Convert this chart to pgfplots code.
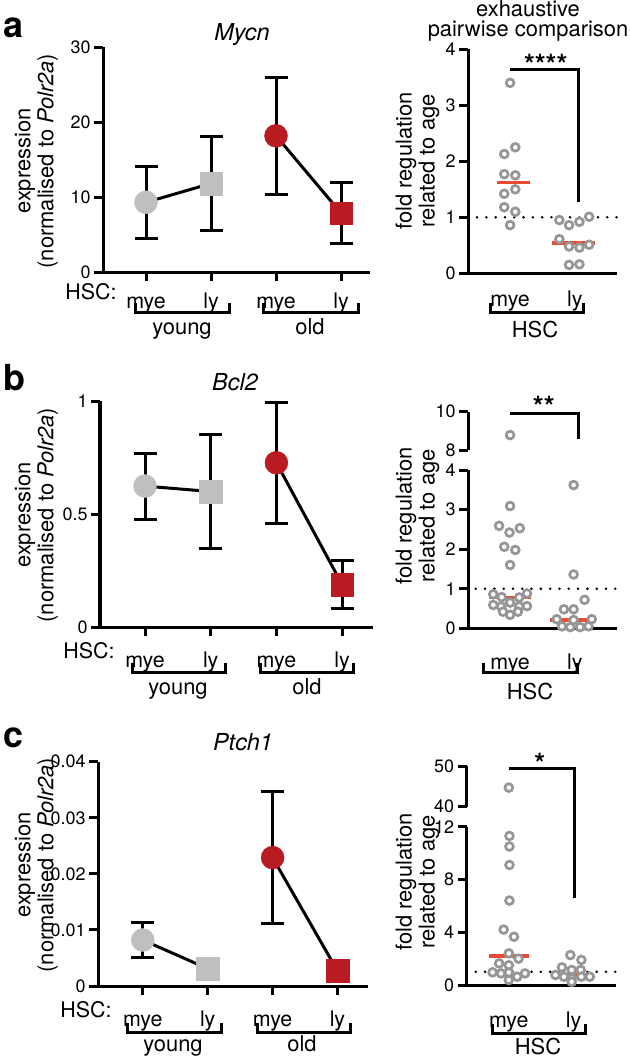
\documentclass[border=0pt]{standalone}
\usepackage{fontspec}
\setmainfont{TeX Gyre Heros}
\usepackage{pgfplots}
\pgfplotsset{compat=1.18}
\definecolor{mgrey}{RGB}{190,191,193}
\definecolor{mred}{RGB}{184,28,34}
\definecolor{rgrey}{RGB}{150,150,150}
\definecolor{medred}{RGB}{232,74,50}
\newcommand{\lab}{\fontsize{22}{23}\selectfont}
\newcommand{\ytk}{\fontsize{18}{20}\selectfont}
\newcommand{\xtk}{\fontsize{21.5}{24}\selectfont}
\newcommand{\ttl}{\fontsize{23.5}{24}\selectfont\itshape}
\newcommand{\brk}[3]{\draw[line width=3bp] (#1bp,-#3bp) ++(0,9bp) -- ++(0,-9bp) -- (#2bp,-#3bp) -- ++(0,9bp);}
\pgfplotsset{
  base/.style={scale only axis, axis lines*=left, axis line style={-, line width=3bp},
    every tick/.style={line width=3bp, black}, major tick length=9bp, tick align=outside,
    scaled y ticks=false,
    yticklabel style={font=\ytk}, xticklabel style={font=\xtk, anchor=base},
    clip=false, /pgf/number format/assume math mode=true},
  lpan/.style={base, xtick={0,1,2,3}, xticklabels={mye,ly,mye,ly}},
  rpan/.style={base, xmin=0.35, xmax=2.65, width=149bp, xtick={1,2}, xticklabels={mye,ly}, xtick style={draw=none}},
  upan/.style={base, xmin=0.35, xmax=2.65, width=149bp, axis x line=none, xtick=\empty},
  eb/.style={black, line width=3bp, mark=none, error bars/.cd, y dir=both, y explicit,
    error bar style={line width=3bp, black}, error mark options={rotate=90, line width=3bp, mark size=11.5bp, black}},
  ring/.style={only marks, mark=*, mark size=3.9bp, mark options={draw=rgrey, fill=white, line width=2.7bp}},
  med/.style={medred, line width=3.8bp},
  dots/.style={black, line width=2.8bp, line cap=round, dash pattern=on 0bp off 9.3bp},
  sig/.style={black, line width=3bp},
  gc/.style={only marks, mark=*, mark size=11.5bp, mgrey},
  gs/.style={only marks, mark=square*, mark size=11.3bp, mgrey},
  rc/.style={only marks, mark=*, mark size=11.5bp, mred},
  rs/.style={only marks, mark=square*, mark size=11.3bp, mred},
}
\begin{document}
\begin{tikzpicture}
\path[use as bounding box] (0,0) rectangle (630bp,-1057bp);
% ---------------- panel a ----------------
\node[anchor=base west, font=\fontsize{36}{36}\selectfont\bfseries] at (0bp,-37bp) {a};
\node[anchor=base, font=\ttl] at (242bp,-40bp) {Mycn};
\node[rotate=90, align=center, font=\lab] at (36.5bp,-161bp) {expression\\(normalised to \textit{Polr2a})};
\begin{axis}[lpan, at={(103bp,-272.3bp)}, anchor=south west, width=267bp, height=225bp,
  xmin=-0.662, xmax=3.446, ymin=0, ymax=30, ytick={0,10,20,30}, yticklabels={0,10,20,30},
  xticklabel style={yshift=-27bp}]
\addplot[eb] coordinates {(0,9.33) +- (0,4.8) (1,11.84) +- (0,6.3)};
\addplot[eb] coordinates {(2,18.2) +- (0,7.8) (3,7.9) +- (0,4.05)};
\addplot[gc] coordinates {(0,9.33)};
\addplot[gs] coordinates {(1,11.84)};
\addplot[rc] coordinates {(2,18.2)};
\addplot[rs] coordinates {(3,7.9)};
\end{axis}
\node[anchor=base east, font=\xtk] at (120bp,-299bp) {HSC:};
\brk{135}{229}{312}\brk{263}{358}{312}
\node[anchor=base, font=\lab] at (182bp,-334bp) {young};
\node[anchor=base, font=\lab] at (310bp,-334bp) {old};
% right a
\node[anchor=base, font=\fontsize{22}{22}\selectfont, inner sep=0pt] at (528bp,-16bp) {exhaustive};
\node[anchor=base, font=\fontsize{22}{22}\selectfont, inner sep=0pt] at (528bp,-36bp) {pairwise comparison};
\node[rotate=90, align=center, font=\lab] at (417.5bp,-161bp) {fold regulation\\related to age};
\begin{axis}[rpan, at={(468bp,-273.3bp)}, anchor=south west, height=224bp,
  ymin=0, ymax=4, ytick={0,1,2,3,4}, yticklabels={0,1,2,3,4}, xticklabel style={yshift=-24bp}]
\addplot[dots] coordinates {(0.49,1) (2.65,1)};
\addplot[ring] coordinates {(1.0,3.40) (0.91,2.13) (1.08,2.25) (0.91,1.77) (1.08,1.75) (0.91,1.42) (1.08,1.50) (0.91,1.18) (1.08,1.10) (1.0,0.86)};
\addplot[ring] coordinates {(1.76,0.95) (1.91,0.86) (2.07,0.92) (2.22,1.01) (1.76,0.61) (1.91,0.48) (2.07,0.46) (2.22,0.51) (1.91,0.15) (2.07,0.16)};
\addplot[med] coordinates {(0.79,1.62) (1.31,1.62)};
\addplot[med] coordinates {(1.64,0.54) (2.31,0.54)};
\addplot[sig] coordinates {(1,3.64) (2.05,3.64) (2.05,1.28)};
\node[anchor=south, font=\fontsize{28}{28}\selectfont\bfseries, inner sep=0pt] at (axis cs:1.55,3.55) {****};
\end{axis}
\brk{490}{583}{312}
\node[anchor=base, font=\lab] at (535bp,-337bp) {HSC};
% ---------------- panel b ----------------
\node[anchor=base west, font=\fontsize{36}{36}\selectfont\bfseries] at (0bp,-390bp) {b};
\node[anchor=base, font=\ttl] at (235bp,-390bp) {Bcl2};
\node[rotate=90, align=center, font=\lab] at (36.5bp,-515bp) {expression\\(normalised to \textit{Polr2a})};
\begin{axis}[lpan, at={(100bp,-627.3bp)}, anchor=south west, width=273bp, height=226.3bp,
  xmin=-0.685, xmax=3.47, ymin=0, ymax=1, ytick={0,0.5,1}, yticklabels={0,0.5,1},
  xticklabel style={yshift=-31bp}]
\addplot[eb] coordinates {(0,0.624) +- (0,0.146) (1,0.60) +- (0,0.25)};
\addplot[eb] coordinates {(2,0.727) +- (0,0.267) (3,0.189) +- (0,0.105)};
\addplot[gc] coordinates {(0,0.624)};
\addplot[gs] coordinates {(1,0.60)};
\addplot[rc] coordinates {(2,0.727)};
\addplot[rs] coordinates {(3,0.189)};
\end{axis}
\node[anchor=base east, font=\xtk] at (118bp,-658bp) {HSC:};
\brk{132}{225}{672}\brk{260}{353}{672}
\node[anchor=base, font=\lab] at (178bp,-694bp) {young};
\node[anchor=base, font=\lab] at (307bp,-694bp) {old};
% right b
\node[rotate=90, align=center, font=\lab] at (417.5bp,-516bp) {fold regulation\\related to age};
\begin{axis}[upan, at={(468bp,-450bp)}, anchor=south west, height=38.3bp,
  ymin=8, ymax=10, ytick={8,10}, yticklabels={8,10}]
\addplot[ring] coordinates {(1.0,8.78)};
\addplot[sig] coordinates {(1,9.91) (2.05,9.91) (2.05,8.6)};
\node[anchor=south, font=\fontsize{28}{28}\selectfont\bfseries, inner sep=0pt] at (axis cs:1.52,9.75) {**};
\end{axis}
\begin{axis}[rpan, at={(468bp,-628.3bp)}, anchor=south west, height=158.3bp,
  ymin=0, ymax=4, ytick={0,1,2,3,4}, yticklabels={0,1,2,3,4}, xticklabel style={yshift=-32bp}]
\addplot[dots] coordinates {(0.47,1) (2.65,1)};
\addplot[ring] coordinates {(1.0,3.09) (0.83,2.59) (0.99,2.42) (1.15,2.53) (0.91,2.06) (1.08,1.98) (1.0,1.60) (0.74,0.86) (1.26,0.88) (0.87,0.79) (1.14,0.78) (0.74,0.59) (0.86,0.55) (1.0,0.65) (1.14,0.55) (1.26,0.56) (0.89,0.42) (1.0,0.34) (1.12,0.42)};
\addplot[ring] coordinates {(1.98,3.62) (1.98,1.36) (2.15,0.72) (1.83,0.48) (1.98,0.48) (1.72,0.23) (2.26,0.23) (1.80,0.05) (1.93,0.03) (2.08,0.03) (2.21,0.05) (1.98,0.21)};
\addplot[med] coordinates {(0.68,0.78) (1.32,0.78)};
\addplot[med] coordinates {(1.62,0.22) (2.31,0.22)};
\end{axis}
\brk{483}{577}{672}
\node[anchor=base, font=\lab] at (530bp,-699bp) {HSC};
% ---------------- panel c ----------------
\node[anchor=base west, font=\fontsize{36}{36}\selectfont\bfseries] at (0bp,-747bp) {c};
\node[anchor=base, font=\ttl] at (243bp,-750bp) {Ptch1};
\node[rotate=90, align=center, font=\lab] at (36.5bp,-865bp) {expression\\(normalised to \textit{Polr2a})};
\begin{axis}[lpan, at={(98bp,-986bp)}, anchor=south west, width=270bp, height=224.3bp,
  xmin=-0.69, xmax=3.47, ymin=0, ymax=0.04, ytick={0,0.01,0.02,0.03,0.04}, yticklabels={0,0.01,0.02,0.03,0.04},
  xticklabel style={yshift=-31bp}]
\addplot[eb] coordinates {(0,0.0082) +- (0,0.0031) (1,0.0031) +- (0,0.0010)};
\addplot[eb] coordinates {(2,0.0229) +- (0,0.0118) (3,0.0027) +- (0,0.0010)};
\addplot[gc] coordinates {(0,0.0082)};
\addplot[gs] coordinates {(1,0.0031)};
\addplot[rc] coordinates {(2,0.0229)};
\addplot[rs] coordinates {(3,0.0027)};
\end{axis}
\node[anchor=base east, font=\xtk] at (115bp,-1017bp) {HSC:};
\brk{127}{221}{1032}\brk{257}{350}{1032}
\node[anchor=base, font=\lab] at (173bp,-1051bp) {young};
\node[anchor=base, font=\lab] at (302bp,-1051bp) {old};
% right c
\node[rotate=90, align=center, font=\lab] at (417.5bp,-882bp) {fold regulation\\related to age};
\begin{axis}[upan, at={(466.7bp,-806.7bp)}, anchor=south west, height=40.7bp,
  ymin=40, ymax=50, ytick={40,50}, yticklabels={40,50}]
\addplot[ring] coordinates {(1.0,44.7)};
\end{axis}
\begin{axis}[rpan, at={(466.7bp,-985bp)}, anchor=south west, height=158.3bp,
  ymin=0, ymax=12, ytick={0,4,8,12}, yticklabels={0,4,8,12}, xticklabel style={yshift=-33bp}]
\addplot[dots] coordinates {(0.49,1) (2.65,1)};
\addplot[ring] coordinates {(1.01,11.3) (1.01,10.5) (1.01,9.1) (1.01,6.4) (0.92,4.2) (1.08,3.66) (1.0,2.4) (1.15,2.0) (0.85,1.64) (1.0,1.5) (0.75,0.96) (0.88,0.88) (1.13,0.63) (1.25,0.88) (1.0,0.38) (1.0,0.95)};
\addplot[ring] coordinates {(1.95,2.27) (2.12,1.9) (1.82,1.34) (1.97,1.14) (2.11,1.14) (1.72,0.76) (1.85,0.63) (1.97,0.5) (2.12,0.63) (2.25,0.63) (1.97,0.25)};
\addplot[med] coordinates {(0.69,2.2) (1.31,2.2)};
\addplot[med] coordinates {(1.71,0.8) (2.29,0.8)};
\addplot[sig] coordinates {(1,16.42) (2.02,16.42) (2.02,6.57)};
\node[anchor=south, font=\fontsize{28}{28}\selectfont\bfseries, inner sep=0pt] at (axis cs:1.48,16.0) {*};
\end{axis}
\brk{492}{585}{1033}
\node[anchor=base, font=\lab] at (538bp,-1054bp) {HSC};
\end{tikzpicture}
\end{document}
